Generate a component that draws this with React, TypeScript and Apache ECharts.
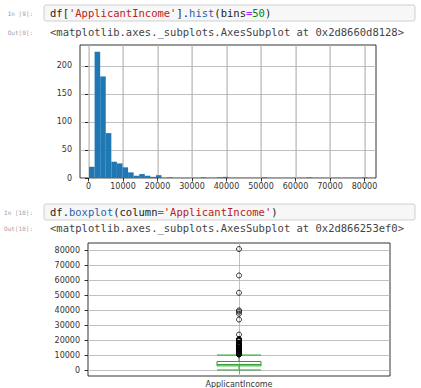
import React, { useEffect, useRef } from "react";
import * as echarts from "echarts";

// ---------- data ----------
const histRangeMin = 150;
const histRangeMax = 81000;
const histCounts = [
  20, 225, 181, 80, 29, 26, 19, 10, 4, 7, 4, 2, 5, 0, 1, 0, 0, 0, 0, 0, 1, 0, 0, 1, 2,
  0, 0, 0, 0, 0, 0, 1, 0, 0, 0, 0, 0, 0, 0, 1, 0, 0, 0, 0, 0, 0, 0, 0, 0, 1,
];
const histXTicks = [0, 10000, 20000, 30000, 40000, 50000, 60000, 70000, 80000];
const histYTicks = [0, 50, 100, 150, 200];

const boxCategories = ["ApplicantIncome"];
// [lower whisker, Q1, median, Q3, upper whisker]
const boxStats = [150, 2877.5, 3812.5, 5795, 10139];
const boxOutliers = [
  10416, 10513, 10750, 10833, 11000, 11146, 11250, 11417, 11500, 11757, 12000, 12500,
  12841, 12876, 13262, 13650, 14583, 14683, 14866, 14880, 14999, 15000, 15759, 16120,
  16250, 16525, 16666, 16692, 17263, 17500, 18165, 18333, 19484, 19730, 20166, 20233,
  20667, 20833, 23803, 33846, 37719, 39147, 39999, 51763, 63337, 81000,
];
const boxYTicks = [0, 10000, 20000, 30000, 40000, 50000, 60000, 70000, 80000];

const code1 = "{k|df[}{s|'ApplicantIncome'}{k|].}{p|hist}{k|(bins}{o|=}{n|50}{k|)}";
const out1 = "<matplotlib.axes._subplots.AxesSubplot at 0x2d8660d8128>";
const code2 = "{k|df.}{p|boxplot}{k|(column}{o|=}{s|'ApplicantIncome'}{k|)}";
const out2 = "<matplotlib.axes._subplots.AxesSubplot at 0x2d866253ef0>";

const MONO = "'DejaVu Sans Mono', 'Liberation Mono', monospace";
const SANS = "'DejaVu Sans', sans-serif";

export default function App() {
  const ref = useRef<HTMLDivElement>(null);
  useEffect(() => {
    if (!ref.current) return;
    const chart = echarts.init(ref.current, undefined, { renderer: "svg" });
    const binW = (histRangeMax - histRangeMin) / histCounts.length;
    const histData = histCounts.map((c, i) => [
      histRangeMin + i * binW,
      histRangeMin + (i + 1) * binW,
      c,
    ]);
    const rich = {
      k: { fill: "#222", fontFamily: MONO, fontSize: 10.5 },
      s: { fill: "#BA2121", fontFamily: MONO, fontSize: 10.5 },
      p: { fill: "#2a5db0", fontFamily: MONO, fontSize: 10.5 },
      o: { fill: "#AA22FF", fontFamily: MONO, fontSize: 10.5 },
      n: { fill: "#008800", fontFamily: MONO, fontSize: 10.5 },
    };
    const tickStyle = { color: "#000", width: 0.8 };
    const gridLineStyle = { color: "#b0b0b0", width: 0.8, type: "solid" };
    const gridLine = { show: true, lineStyle: gridLineStyle };
    const labelStyle = { fontSize: 8, color: "#333", fontFamily: SANS };

    const option: any = {
      animation: false,
      backgroundColor: "#fff",
      grid: [
        { left: 80, top: 45, width: 296, height: 133, show: true, borderColor: "#000", borderWidth: 0.8, backgroundColor: "transparent" },
        { left: 88, top: 243, width: 302, height: 135, show: true, borderColor: "#000", borderWidth: 0.8, backgroundColor: "transparent" },
      ],
      xAxis: [
        {
          type: "value",
          gridIndex: 0,
          min: -2464,
          max: 83333,
          axisLine: { show: false },
          axisTick: { show: true, customValues: histXTicks, length: 3.5, lineStyle: tickStyle },
          axisLabel: { ...labelStyle, customValues: histXTicks, margin: 4, formatter: (v: number) => String(v) },
          splitLine: { show: false },
        },
        {
          type: "category",
          gridIndex: 1,
          data: boxCategories,
          axisLine: { show: false },
          axisTick: { show: true, alignWithLabel: true, length: 3.5, lineStyle: tickStyle },
          axisLabel: { ...labelStyle, margin: 4 },
          splitLine: { show: false },
        },
      ],
      yAxis: [
        {
          type: "value",
          gridIndex: 0,
          min: 0,
          max: 237,
          axisLine: { show: false },
          axisTick: { show: true, customValues: histYTicks, length: 3.5, lineStyle: tickStyle },
          axisLabel: { ...labelStyle, customValues: histYTicks, margin: 8, formatter: (v: number) => String(v) },
          splitLine: gridLine,
        },
        {
          type: "value",
          gridIndex: 1,
          min: -3892,
          max: 85042,
          axisLine: { show: false },
          axisTick: { show: true, customValues: boxYTicks, length: 3.5, lineStyle: tickStyle },
          axisLabel: { ...labelStyle, customValues: boxYTicks, margin: 8, formatter: (v: number) => String(v) },
          splitLine: gridLine,
        },
      ],
      series: [
        {
          // vertical grid lines of the histogram, placed through the x scale
          type: "custom",
          xAxisIndex: 0,
          yAxisIndex: 0,
          data: histXTicks.map((v) => [v, 0, 237]),
          encode: { x: 0, y: [1, 2] },
          silent: true,
          clip: false,
          z: 2,
          renderItem: (_params: any, api: any) => {
            const a = api.coord([api.value(0), api.value(1)]);
            const b = api.coord([api.value(0), api.value(2)]);
            return {
              type: "rect",
              shape: { x: Math.round(a[0]) - 0.5, y: b[1], width: 1.2, height: a[1] - b[1] },
              style: { fill: "#b4b4b4" },
            };
          },
        },
        {
          type: "custom",
          xAxisIndex: 0,
          yAxisIndex: 0,
          data: histData,
          encode: { x: [0, 1], y: 2 },
          z: 3,
          renderItem: (_p: any, api: any) => {
            const x0 = api.value(0);
            const x1 = api.value(1);
            const c = api.value(2);
            const a = api.coord([x0, c]);
            const b = api.coord([x1, 0]);
            return {
              type: "rect",
              shape: { x: a[0], y: a[1], width: b[0] - a[0], height: b[1] - a[1] },
              style: { fill: "#1f77b4" },
            };
          },
        },
        {
          type: "boxplot",
          xAxisIndex: 1,
          yAxisIndex: 1,
          data: [boxStats],
          boxWidth: [44, 44],
          itemStyle: { color: "rgba(0,0,0,0)", borderColor: "#2ca02c", borderWidth: 1 },
          z: 3,
        },
        {
          type: "scatter",
          xAxisIndex: 1,
          yAxisIndex: 1,
          data: boxOutliers.map((v) => [0, v]),
          symbol: "circle",
          symbolSize: 5,
          itemStyle: { color: "rgba(0,0,0,0)", borderColor: "#000", borderWidth: 0.8, opacity: 1 },
          z: 4,
          markLine: {
            silent: true,
            symbol: ["none", "none"],
            label: { show: false },
            lineStyle: gridLineStyle,
            data: [{ xAxis: 0 }],
            z: 1,
          },
        },
      ],
      graphic: [
        { type: "rect", shape: { x: 44, y: 5, width: 371, height: 16, r: 2 }, style: { fill: "#f7f7f7", stroke: "#cfcfcf", lineWidth: 1 } },
        { type: "text", x: 33, y: 13, style: { text: "In [9]:", fill: "#9a9ab0", font: `6px ${MONO}`, align: "right", verticalAlign: "middle" } },
        { type: "text", x: 50, y: 13, style: { text: code1, rich, font: `10.5px ${MONO}`, verticalAlign: "middle" } },
        { type: "text", x: 33, y: 32, style: { text: "Out[9]:", fill: "#b09a9a", font: `6px ${MONO}`, align: "right", verticalAlign: "middle" } },
        { type: "text", x: 50, y: 32, style: { text: out1, fill: "#444", font: `10.5px ${MONO}`, verticalAlign: "middle" } },
        { type: "rect", shape: { x: 44, y: 204, width: 371, height: 16, r: 2 }, style: { fill: "#f7f7f7", stroke: "#cfcfcf", lineWidth: 1 } },
        { type: "text", x: 33, y: 212, style: { text: "In [10]:", fill: "#9a9ab0", font: `6px ${MONO}`, align: "right", verticalAlign: "middle" } },
        { type: "text", x: 50, y: 212, style: { text: code2, rich, font: `10.5px ${MONO}`, verticalAlign: "middle" } },
        { type: "text", x: 33, y: 228, style: { text: "Out[10]:", fill: "#b09a9a", font: `6px ${MONO}`, align: "right", verticalAlign: "middle" } },
        { type: "text", x: 50, y: 228, style: { text: out2, fill: "#444", font: `10.5px ${MONO}`, verticalAlign: "middle" } },
      ],
    };
    chart.setOption(option);
    return () => chart.dispose();
  }, []);
  return (
    <div
      ref={ref}
      style={{ position: "fixed", left: 0, top: 0, width: 421, height: 388, background: "#fff" }}
    />
  );
}
